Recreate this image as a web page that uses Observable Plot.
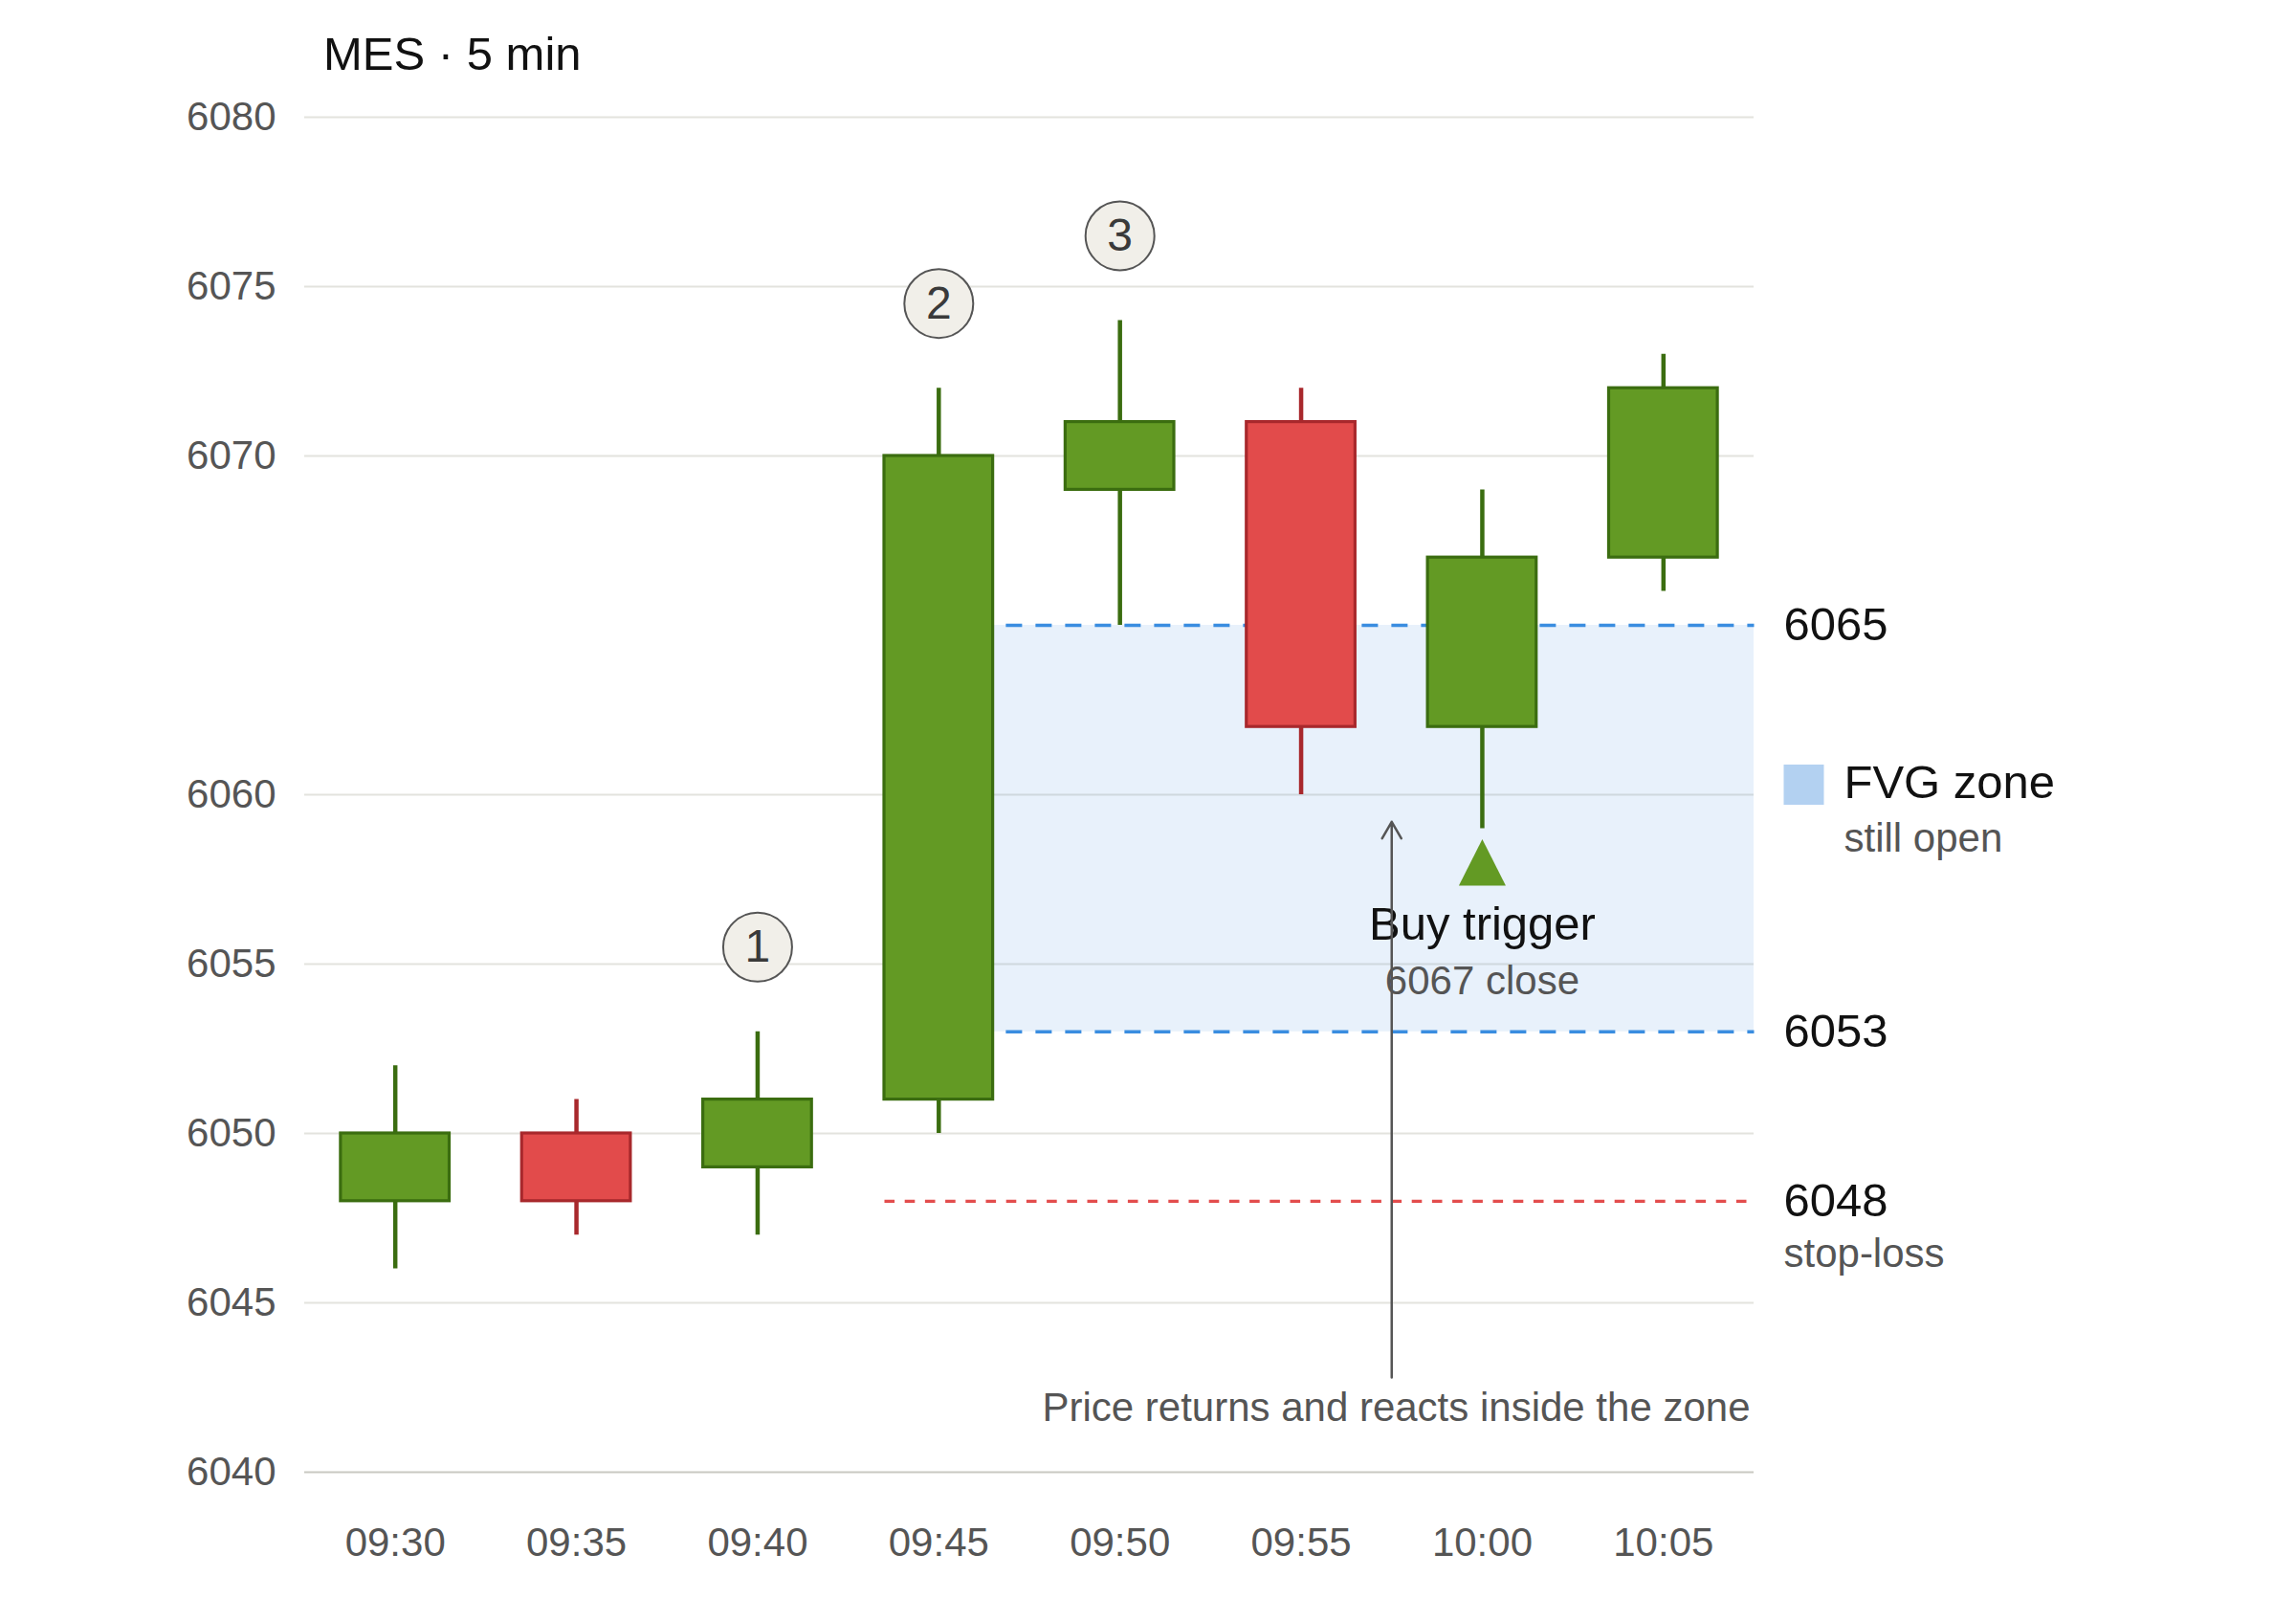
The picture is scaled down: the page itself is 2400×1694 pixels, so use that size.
<!DOCTYPE html>
<html>
<head>
<meta charset="utf-8">
<script src="https://cdn.jsdelivr.net/npm/d3@7"></script>
<script src="https://cdn.jsdelivr.net/npm/@observablehq/plot@0.6"></script>
<style>
  html, body { margin: 0; padding: 0; background: #fff; overflow: hidden; }
  #wrap { position: relative; width: 2400px; height: 1694px; }
  #title { position: absolute; left: 338px; top: 31px; font-family: "Liberation Sans", Arial, sans-serif; font-size: 49px; line-height: 50px; color: #111; white-space: nowrap; }
  svg { display: block; }
</style>
</head>
<body>
<div id="wrap"></div>
<script>
// ---- data ----
const times = ["09:30", "09:35", "09:40", "09:45", "09:50", "09:55", "10:00", "10:05"];
const opens  = [6048, 6050, 6049, 6051, 6069, 6071, 6062, 6067];
const highs  = [6052, 6051, 6053, 6072, 6074, 6072, 6069, 6073];
const lows   = [6046, 6047, 6047, 6050, 6065, 6060, 6059, 6066];
const closes = [6050, 6048, 6051, 6070, 6071, 6062, 6067, 6072];
const yTicks = [6040, 6045, 6050, 6055, 6060, 6070, 6075, 6080];

const fvgTop = 6065;
const fvgBottom = 6053;
const stopLoss = 6048;

const markerIndex = [2, 3, 4];
const markerLabel = ["1", "2", "3"];
const markerY = [6055.5, 6074.5, 6076.5];

const buyIndex = 6;
const buyY = 6058;
const arrowIndex = 5.5;
const arrowFrom = 6042.8;
const arrowTo = 6059.2;

// ---- tables ----
const candles = times.map((t, i) => ({i, t, o: opens[i], h: highs[i], l: lows[i], c: closes[i]}));
const up = candles.filter(d => d.c >= d.o);
const down = candles.filter(d => d.c < d.o);
const markers = markerIndex.map((x, k) => ({x, y: markerY[k], label: markerLabel[k]}));
const half = 0.3;
const xEnd = times.length - 0.5;
const zone = [{x1: 3 + half, x2: xEnd, y1: fvgBottom, y2: fvgTop}];
const zoneLines = [fvgTop, fvgBottom].map(y => ({x1: 3.37, x2: xEnd, y}));
const stopLine = [{x1: 3 - half, x2: xEnd, y: stopLoss}];

const GREEN_FILL = "#639a24", GREEN_STROKE = "#3b6d10";
const RED_FILL = "#e24b4b", RED_STROKE = "#a8282c";

const tallTriangle = {
  draw(ctx, size) {
    const r = Math.sqrt(size / Math.PI);
    ctx.moveTo(0, -r * 0.99);
    ctx.lineTo(r, r * 0.99);
    ctx.lineTo(-r, r * 0.99);
    ctx.closePath();
  }
};

const font = '"Liberation Sans", Arial, sans-serif';

const chart = Plot.plot({
  width: 2400,
  height: 1694,
  marginLeft: 318,
  marginRight: 567,
  marginTop: 122,
  marginBottom: 156,
  x: {type: "linear", domain: [-0.5, xEnd]},
  y: {domain: [6040, 6080]},
  style: {fontFamily: font, fontSize: "42px", background: "white", overflow: "visible"},
  marks: [
    Plot.ruleY(yTicks.filter(v => v > yTicks[0]), {y: d => d, stroke: "#e3e3de", strokeWidth: 2}),
    Plot.ruleY([yTicks[0]], {y: d => d, stroke: "#c9c9c2", strokeWidth: 2}),
    Plot.axisY({ticks: yTicks, tickSize: 0, tickPadding: 30, fill: "#555", fontSize: 42, tickFormat: d => String(d), label: null}),
    Plot.axisX({ticks: d3.range(times.length), tickSize: 0, tickPadding: 58, fill: "#555", fontSize: 42, tickFormat: i => times[i], label: null}),
    // FVG zone
    Plot.rect(zone, {x1: "x1", x2: "x2", y1: "y1", y2: "y2", fill: "#4a90e2", fillOpacity: 0.13}),
    Plot.link(zoneLines, {x1: "x1", x2: "x2", y1: "y", y2: "y", stroke: "#3a8de0", strokeWidth: 3.5, strokeDasharray: "17,14"}),
    Plot.link(stopLine, {x1: "x1", x2: "x2", y1: "y", y2: "y", stroke: "#e34d4d", strokeWidth: 3.3, strokeDasharray: "10.6,10.6"}),
    // wicks
    Plot.ruleX(up, {x: "i", y1: "l", y2: "h", stroke: GREEN_STROKE, strokeWidth: 4.5}),
    Plot.ruleX(down, {x: "i", y1: "l", y2: "h", stroke: RED_STROKE, strokeWidth: 4.5}),
    // bodies
    Plot.rect(up, {x1: d => d.i - half, x2: d => d.i + half, y1: "o", y2: "c", fill: GREEN_FILL, stroke: GREEN_STROKE, strokeWidth: 3.2}),
    Plot.rect(down, {x1: d => d.i - half, x2: d => d.i + half, y1: "o", y2: "c", fill: RED_FILL, stroke: RED_STROKE, strokeWidth: 3.2}),
    // numbered markers
    Plot.dot(markers, {x: "x", y: "y", r: 36, fill: "#f1efe9", stroke: "#555", strokeWidth: 2}),
    Plot.text(markers, {x: "x", y: "y", text: "label", fontSize: 48, fill: "#3a3a3a"}),
    // buy trigger
    Plot.dot([{x: buyIndex, y: buyY}], {x: "x", y: "y", symbol: tallTriangle, r: 24.5, fill: GREEN_FILL, stroke: "none"}),
    Plot.text([{x: buyIndex, y: 6056.15, t: "Buy trigger"}], {x: "x", y: "y", text: "t", fontSize: 49, fill: "#111"}),
    Plot.text([{x: buyIndex, y: 6054.5, t: closes[buyIndex] + " close"}], {x: "x", y: "y", text: "t", fontSize: 42, fill: "#555"}),
    Plot.text([{x: xEnd, y: 6041.9, t: "Price returns and reacts inside the zone"}], {x: "x", y: "y", text: "t", dx: -4, fontSize: 42, fill: "#555", textAnchor: "end"}),
    Plot.arrow([{x: arrowIndex, y1: arrowFrom, y2: arrowTo}], {x1: "x", x2: "x", y1: "y1", y2: "y2", stroke: "#555", strokeWidth: 2.5, headLength: 12}),
    // right labels
    Plot.text([fvgTop, fvgBottom, stopLoss], {x: xEnd, y: d => d, text: d => String(d), dx: 31, textAnchor: "start", fontSize: 49, fill: "#111"}),
    Plot.text([{y: 6046.45, t: "stop-loss"}], {x: xEnd, y: "y", text: "t", dx: 31, textAnchor: "start", fontSize: 42, fill: "#555"}),
    // legend
    Plot.dot([{y: 6060.3}], {x: xEnd, y: "y", dx: 52, symbol: "square", r: 23.7, fill: "#b3d1f1", stroke: "none"}),
    Plot.text([{y: 6060.35, t: "FVG zone"}], {x: xEnd, y: "y", text: "t", dx: 94, textAnchor: "start", fontSize: 49, fill: "#111"}),
    Plot.text([{y: 6058.7, t: "still open"}], {x: xEnd, y: "y", text: "t", dx: 94, textAnchor: "start", fontSize: 42, fill: "#555"})
  ]
});

const wrap = document.getElementById("wrap");
wrap.appendChild(chart);
const title = document.createElement("div");
title.id = "title";
title.textContent = "MES · 5 min";
wrap.appendChild(title);
</script>
</body>
</html>
